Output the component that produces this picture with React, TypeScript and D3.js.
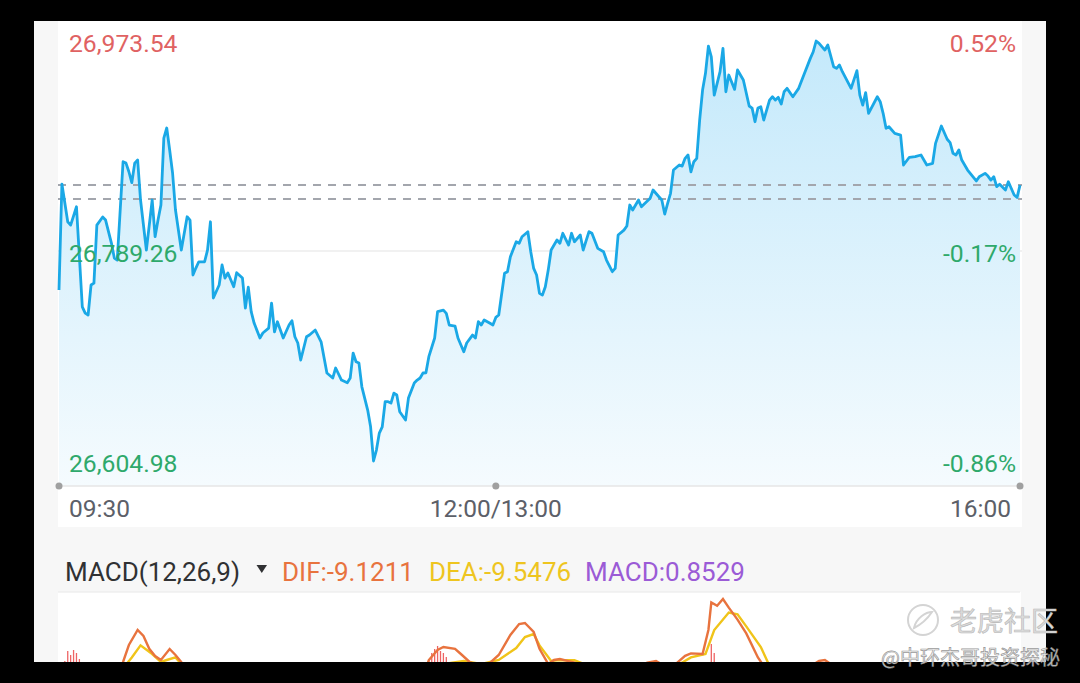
import { useEffect, useRef } from 'react';
import * as d3 from 'd3';

// minute offsets from 09:30 (lunch break removed, 0..330) and index level
const minutes = [
  0, 1, 3, 4, 6, 8, 9, 10, 11, 12, 13, 15, 16, 18, 19, 20, 22, 23, 24, 25, 26, 27, 28, 30, 32, 33, 34, 35, 36, 37,
  38, 39, 40, 42, 44, 45, 46, 47, 48, 50, 51, 52, 53, 55, 56, 57, 58, 60, 61, 63, 64, 65, 66, 67, 69, 70, 72, 73,
  74, 75, 77, 79, 80, 81, 82, 83, 85, 86, 88, 90, 92, 94, 95, 97, 99, 100, 101, 102, 103, 104, 106, 107, 108, 109,
  110, 111, 112, 113, 114, 115, 116, 117, 119, 120, 122, 123, 124, 125, 126, 127, 129, 130, 132, 133, 134, 136,
  137, 139, 140, 142, 143, 144, 145, 146, 148, 149, 150, 151, 153, 154, 155, 157, 158, 159, 161, 162, 163, 164,
  165, 166, 167, 168, 169, 171, 172, 173, 175, 176, 177, 179, 180, 182, 183, 185, 187, 188, 190, 191, 192, 194,
  195, 196, 197, 199, 200, 203, 204, 206, 207, 208, 209, 210, 211, 213, 214, 215, 216, 217, 218, 219, 220, 221,
  222, 223, 224, 225, 227, 228, 229, 230, 232, 233, 235, 237, 238, 239, 240, 241, 242, 244, 245, 246, 247, 248,
  249, 250, 252, 254, 256, 258, 259, 260, 261, 263, 264, 266, 267, 268, 269, 272, 274, 275, 276, 277, 278, 281,
  282, 283, 284, 285, 287, 289, 290, 292, 294, 296, 298, 300, 301, 303, 305, 306, 307, 308, 309, 310, 312, 315,
  316, 318, 319, 320, 321, 322, 323, 325, 326, 328, 329, 330,
];
const prices = [
  26755.0, 26848.0, 26814.9, 26812.0, 26828.1, 26740.3, 26734.8, 26733.1, 26759.4, 26761.1, 26812.0, 26819.1,
  26816.4, 26796.2, 26783.1, 26781.3, 26867.6, 26866.4, 26858.8, 26849.2, 26866.4, 26869.1, 26834.0, 26790.1,
  26834.0, 26801.8, 26816.4, 26829.6, 26888.4, 26897.2, 26877.9, 26857.7, 26825.2, 26790.1, 26819.3, 26816.4,
  26768.2, 26774.3, 26779.8, 26779.8, 26790.1, 26814.9, 26748.0, 26759.4, 26777.0, 26765.5, 26769.9, 26757.9,
  26770.2, 26765.5, 26739.2, 26757.6, 26736.0, 26726.0, 26712.9, 26717.3, 26721.6, 26743.6, 26718.4, 26727.2,
  26712.9, 26724.3, 26728.1, 26714.0, 26708.5, 26693.6, 26714.0, 26715.5, 26719.9, 26709.6, 26682.2, 26677.8,
  26686.6, 26676.0, 26673.7, 26677.8, 26699.7, 26692.1, 26690.9, 26670.1, 26649.7, 26635.0, 26604.98, 26614.6,
  26629.5, 26635.0, 26657.0, 26657.0, 26655.8, 26664.6, 26662.9, 26648.2, 26640.9, 26660.2, 26673.4, 26676.0,
  26677.8, 26682.2, 26682.4, 26696.5, 26712.9, 26736.0, 26737.4, 26734.5, 26724.3, 26723.4, 26712.9, 26700.9,
  26708.5, 26715.5, 26712.9, 26727.2, 26724.3, 26728.7, 26725.8, 26724.3, 26731.0, 26733.1, 26769.7, 26771.1,
  26784.2, 26797.4, 26796.0, 26801.8, 26806.2, 26788.6, 26774.0, 26768.2, 26752.1, 26750.6, 26757.9, 26772.5,
  26790.1, 26798.9, 26796.0, 26804.8, 26794.5, 26804.8, 26797.4, 26803.3, 26790.1, 26806.2, 26804.8, 26791.6,
  26788.6, 26781.3, 26771.1, 26774.0, 26803.3, 26807.6, 26811.2, 26829.6, 26825.2, 26834.0, 26828.1, 26835.5,
  26842.8, 26836.9, 26834.0, 26821.7, 26831.1, 26839.9, 26860.3, 26864.7, 26863.8, 26870.6, 26873.5, 26858.8,
  26867.6, 26870.6, 26904.2, 26930.5, 26945.2, 26969.1, 26959.7, 26926.1, 26946.6, 26967.1, 26929.0, 26943.7,
  26931.1, 26948.1, 26939.3, 26916.5, 26914.7, 26902.7, 26914.7, 26915.8, 26904.2, 26921.7, 26924.6, 26921.7,
  26924.1, 26918.2, 26929.0, 26932.0, 26924.6, 26932.0, 26945.2, 26958.3, 26964.1, 26973.54, 26971.5, 26965.6,
  26970.0, 26951.0, 26949.5, 26952.5, 26946.6, 26932.0, 26947.5, 26926.1, 26917.3, 26928.2, 26910.1, 26924.6,
  26920.3, 26910.1, 26896.9, 26898.3, 26892.5, 26891.0, 26864.7, 26871.5, 26872.0, 26873.5, 26864.7, 26866.2,
  26883.7, 26898.9, 26887.3, 26884.3, 26875.0, 26873.5, 26877.9, 26869.1, 26860.3, 26850.7, 26854.4, 26857.4,
  26855.0, 26851.5, 26854.4, 26845.7, 26847.8, 26842.8, 26850.0, 26838.4, 26836.3, 26847.1,
];

const prevClose = 26834.87;
const priceHigh = 26973.54;
const priceLow = 26604.98;
const timeLabels = ['09:30', '12:00/13:00', '16:00'];
const timeTicks = [0, 150, 330];

// MACD(12,26,9) – only the upper part of this pane is visible in the screenshot
const difMinutes = [
  0, 18, 22, 24, 27, 29, 31, 33, 35, 38, 40, 42, 45, 66, 100, 124, 127, 130, 132, 136, 138, 141, 146, 151, 155,
  158, 160, 163, 165, 168, 170, 172, 177, 181, 196, 202, 205, 208, 211, 215, 217, 221, 223, 224, 226, 228, 230,
  233, 236, 240, 242, 251, 257, 261, 263, 266, 272, 289, 330,
];
const difValues = [
  -11.5, -6.5, 7.5, 16, 23.5, 20.5, 14.1, 10.5, 8.5, 14, 11, 7.5, -6.5, -21.5, -21.5, -4, 8.5, 13.5, 15, 14.1,
  11.5, 7.5, 4.5, 11, 21, 26.5, 27, 22.5, 14.1, 6.5, 8.5, 9, 7.2, 3.5, 2.5, 7.2, 8, 5.5, 5.5, 10.6, 11.8, 11.5,
  23.5, 37.3, 35.6, 39, 34.7, 28.7, 21.8, 9.8, 5.5, -2.5, 4.5, 8, 8.5, 5.5, -6.5, -21.5, -11.5,
];
const deaMinutes = [
  0, 21, 25, 28, 32, 35, 37, 40, 42, 47, 83, 126, 131, 135, 139, 145, 151, 157, 160, 163, 165, 169, 171, 177,
  182, 193, 206, 212, 217, 222, 225, 230, 233, 236, 241, 244, 254, 272, 330,
];
const deaValues = [
  -6.5, 2.5, 9.8, 15.8, 11.5, 7.5, 8.5, 9.8, 6.5, -4, -21.5, -4, 6, 7.2, 8, 6.5, 8.5, 14.5, 20, 21.5, 15.8, 8,
  8.4, 8.4, 5.5, 0.5, 1.5, 5.5, 9.8, 11.5, 23.5, 32.2, 31.3, 25.3, 15, 5.5, -4, -6.5, -14,
];
const barMinutes = [2, 3, 4, 5, 6, 7, 127, 128, 129, 130, 131, 132, 133, 134, 224, 225];
const barValues = [8, 13, 11, 13.5, 12, 9, 8, 12, 14, 15.5, 13, 12, 10, 7, 16.5, 12];

const W = 1080;
const H = 683;

const IntradayChart = () => {
  const svgRef = useRef(null);

  useEffect(() => {
    const svg = d3.select(svgRef.current);
    svg.selectAll('*').remove();

    const font = 'Roboto, "Noto Sans", sans-serif';

    // frame of the screenshot
    svg.append('rect').attr('width', W).attr('height', H).attr('fill', '#000');
    svg.append('rect').attr('x', 34).attr('y', 21).attr('width', 1012).attr('height', 641).attr('fill', '#f7f7f7');
    svg.append('rect').attr('x', 58).attr('y', 21).attr('width', 964).attr('height', 506).attr('fill', '#fff');
    svg.append('rect').attr('x', 58).attr('y', 592).attr('width', 963).attr('height', 70).attr('fill', '#fff');

    const x = d3.scaleLinear().domain([0, 330]).range([59, 1020]);
    const y = d3.scaleLinear().domain([priceLow, priceHigh]).range([461, 41]);
    const axisY = 486;

    const data = minutes.map((m, i) => ({ m, v: prices[i] }));

    const defs = svg.append('defs');
    const grad = defs.append('linearGradient')
      .attr('id', 'areaFill')
      .attr('gradientUnits', 'userSpaceOnUse')
      .attr('x1', 0).attr('y1', 41).attr('x2', 0).attr('y2', axisY);
    grad.append('stop').attr('offset', '0%').attr('stop-color', '#c4e9fb');
    grad.append('stop').attr('offset', '100%').attr('stop-color', '#f5fbfe');

    // mid grid line
    const mid = (priceHigh + priceLow) / 2;
    svg.append('line')
      .attr('x1', 58).attr('x2', 1022)
      .attr('y1', y(mid)).attr('y2', y(mid))
      .attr('stroke', '#e3e3e3').attr('stroke-width', 1);

    // area + line
    const area = d3.area()
      .x(d => x(d.m))
      .y0(axisY)
      .y1(d => y(d.v));
    svg.append('path').datum(data).attr('d', area).attr('fill', 'url(#areaFill)');

    // dashed reference lines: last price and previous close
    const lastPrice = prices[prices.length - 1];
    [lastPrice, prevClose].forEach(v => {
      svg.append('line')
        .attr('x1', 58).attr('x2', 1022)
        .attr('y1', y(v)).attr('y2', y(v))
        .attr('stroke', '#a3a6ad').attr('stroke-width', 2)
        .attr('stroke-dasharray', '8,7');
    });

    const line = d3.line()
      .x(d => x(d.m))
      .y(d => y(d.v));
    svg.append('path').datum(data).attr('d', line)
      .attr('fill', 'none')
      .attr('stroke', '#1aa8e6')
      .attr('stroke-width', 2.8)
      .attr('stroke-linejoin', 'round');

    // bottom axis
    svg.append('line')
      .attr('x1', 58).attr('x2', 1022)
      .attr('y1', axisY).attr('y2', axisY)
      .attr('stroke', '#e6e6e6').attr('stroke-width', 1.5);
    svg.selectAll('.tick-dot')
      .data(timeTicks)
      .enter()
      .append('circle')
      .attr('cx', d => x(d))
      .attr('cy', axisY)
      .attr('r', 3.5)
      .attr('fill', '#a0a0a0');

    svg.selectAll('.time-label')
      .data(timeLabels)
      .enter()
      .append('text')
      .attr('x', (d, i) => x(timeTicks[i]) + (i === 0 ? 10 : i === 2 ? -9 : 0))
      .attr('y', 517)
      .attr('text-anchor', (d, i) => (i === 0 ? 'start' : i === 2 ? 'end' : 'middle'))
      .style('font-family', font)
      .style('font-size', '24.5px')
      .style('fill', '#5c6068')
      .text(d => d);

    // price / percent labels
    const fmt = d3.format(',.2f');
    const levels = [priceHigh, mid, priceLow];
    levels.forEach(v => {
      const color = v > prevClose ? '#e06262' : '#2ea96b';
      const pct = ((v / prevClose - 1) * 100).toFixed(2) + '%';
      svg.append('text')
        .attr('x', 69).attr('y', y(v) + 11)
        .style('font-family', font).style('font-size', '24.7px').style('fill', color)
        .text(fmt(v));
      svg.append('text')
        .attr('x', 1016).attr('y', y(v) + 11)
        .attr('text-anchor', 'end')
        .style('font-family', font).style('font-size', '24.7px').style('fill', color)
        .text(pct);
    });

    // MACD header
    const header = svg.append('g').style('font-family', font).style('font-size', '26px');
    header.append('text').attr('x', 65).attr('y', 581).style('fill', '#303133').text('MACD(12,26,9)');
    header.append('path').attr('d', 'M256.5,565 L267,565 L261.75,573 Z').attr('fill', '#303133');
    header.append('text').attr('x', 282).attr('y', 581).style('fill', '#e8733e')
      .text(`DIF:${(-9.1211).toFixed(4)}`);
    header.append('text').attr('x', 429).attr('y', 581).style('fill', '#eec51f')
      .text(`DEA:${(-9.5476).toFixed(4)}`);
    header.append('text').attr('x', 585).attr('y', 581).style('fill', '#9b5bd6')
      .text(`MACD:${(0.8529).toFixed(4)}`);

    svg.append('line')
      .attr('x1', 58).attr('x2', 1020)
      .attr('y1', 592).attr('y2', 592)
      .attr('stroke', '#e8e8e8').attr('stroke-width', 1);

    // MACD pane
    const ym = d3.scaleLinear().domain([-40, 40]).range([757, 597]);
    defs.append('clipPath').attr('id', 'macdClip')
      .append('rect').attr('x', 58).attr('y', 593).attr('width', 963).attr('height', 69);
    const pane = svg.append('g').attr('clip-path', 'url(#macdClip)');

    pane.selectAll('.bar')
      .data(barMinutes)
      .enter()
      .append('line')
      .attr('x1', d => x(d)).attr('x2', d => x(d))
      .attr('y1', ym(0))
      .attr('y2', (d, i) => ym(barValues[i]))
      .attr('stroke', '#ee6464')
      .attr('stroke-width', 1.3);

    const mline = d3.line().x(d => x(d[0])).y(d => ym(d[1]));
    pane.append('path')
      .datum(deaMinutes.map((m, i) => [m, deaValues[i]]))
      .attr('d', mline)
      .attr('fill', 'none').attr('stroke', '#f0c419').attr('stroke-width', 2.4);
    pane.append('path')
      .datum(difMinutes.map((m, i) => [m, difValues[i]]))
      .attr('d', mline)
      .attr('fill', 'none').attr('stroke', '#e8733e').attr('stroke-width', 2.4);

    // watermark
    const wm = svg.append('g');
    wm.append('circle').attr('cx', 923).attr('cy', 620).attr('r', 15)
      .attr('fill', 'none').attr('stroke', '#d4d4d4').attr('stroke-width', 2);
    wm.append('path').attr('d', 'M914,628 C916,618 926,612 932,612 C928,618 922,624 914,628 Z')
      .attr('fill', 'none').attr('stroke', '#d4d4d4').attr('stroke-width', 2);
    wm.append('text').attr('x', 950).attr('y', 631)
      .style('font-family', '"Noto Sans CJK SC", sans-serif').style('font-size', '27px')
      .style('fill', '#dcdcdc').style('stroke', '#b8b8b8').style('stroke-width', 0.6)
      .text('老虎社区');
    wm.append('text').attr('x', 1060).attr('y', 665).attr('text-anchor', 'end')
      .style('font-family', '"Noto Sans CJK SC", sans-serif').style('font-size', '20px')
      .style('fill', 'rgba(235,235,235,0.85)').style('stroke', 'rgba(110,110,110,0.7)').style('stroke-width', 0.7)
      .text('@中环杰哥投资探秘');
  }, []);

  return <svg ref={svgRef} width={W} height={H} style={{ display: 'block' }} />;
};

export default function App() {
  return (
    <div style={{ position: 'fixed', left: 0, top: 0, width: W, height: H, overflow: 'hidden' }}>
      <IntradayChart />
    </div>
  );
}
